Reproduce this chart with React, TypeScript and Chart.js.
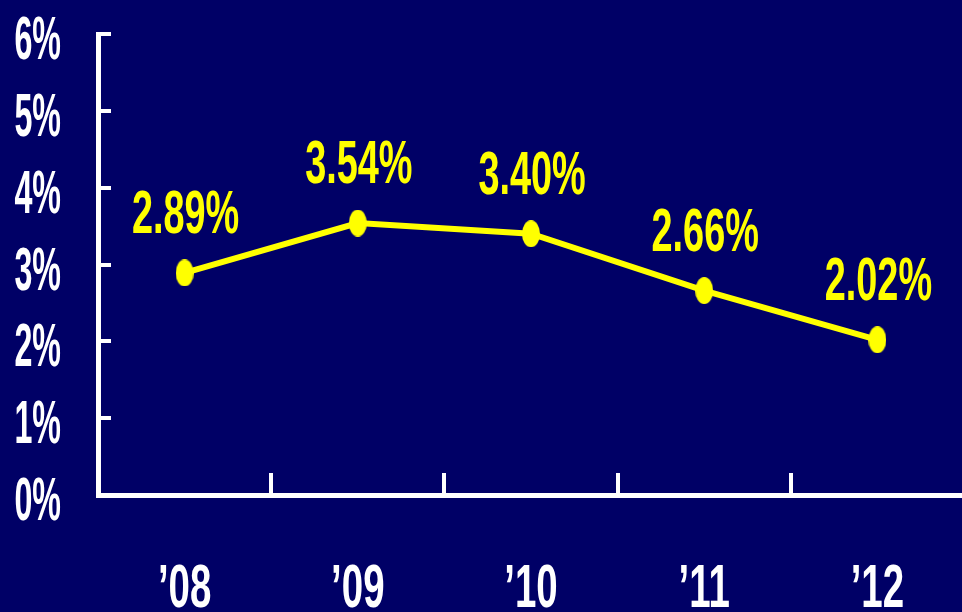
import React, { useEffect, useRef } from "react";
import { Chart, registerables } from "chart.js";

Chart.register(...registerables);

const categories = ["\u201908", "\u201909", "\u201910", "\u201911", "\u201912"];
const rates = [2.89, 3.54, 3.4, 2.66, 2.02];
const rateLabels = ["2.89%", "3.54%", "3.40%", "2.66%", "2.02%"];
const yTickValues = [0, 1, 2, 3, 4, 5, 6];
const yTickLabels = ["0%", "1%", "2%", "3%", "4%", "5%", "6%"];

const BG = "#000066";
const YELLOW = "#ffff00";
const WHITE = "#ffffff";
const FONT = "bold 62px 'Liberation Sans', Arial, sans-serif";
const SX = 0.6;

function makeEllipse(): HTMLCanvasElement {
  const c = document.createElement("canvas");
  c.width = 18;
  c.height = 27;
  const g = c.getContext("2d")!;
  g.fillStyle = YELLOW;
  g.beginPath();
  g.ellipse(9, 13.5, 9, 13.5, 0, 0, Math.PI * 2);
  g.fill();
  return c;
}

function drawScaled(ctx: CanvasRenderingContext2D, text: string, x: number, y: number, align: CanvasTextAlign, color: string, sx: number = SX) {
  ctx.save();
  ctx.translate(x, y);
  ctx.scale(sx, 1);
  ctx.font = FONT;
  ctx.fillStyle = color;
  ctx.textAlign = align;
  ctx.textBaseline = "alphabetic";
  ctx.fillText(text, 0, 0);
  ctx.restore();
}

const textPlugin = {
  id: "textPlugin",
  beforeDraw(chart: any) {
    const ctx = chart.ctx;
    ctx.save();
    ctx.fillStyle = BG;
    ctx.fillRect(0, 0, chart.width, chart.height);
    ctx.restore();
  },
  afterDraw(chart: any) {
    const ctx = chart.ctx as CanvasRenderingContext2D;
    const xs = chart.scales.x;
    const ys = chart.scales.y;
    yTickValues.forEach((v, i) => {
      const y = ys.getPixelForValue(v);
      drawScaled(ctx, yTickLabels[i], 61, y + 25, "right", WHITE, 0.52);
    });
    categories.forEach((c, i) => {
      const x = xs.getPixelForValue(i);
      drawScaled(ctx, c, x, 607, "center", WHITE, 0.62);
    });
    const meta = chart.getDatasetMeta(0);
    meta.data.forEach((pt: any, i: number) => {
      drawScaled(ctx, rateLabels[i], pt.x + 1, pt.y - 40, "center", YELLOW, 0.61);
    });
  },
};

export default function App() {
  const ref = useRef<HTMLCanvasElement | null>(null);
  useEffect(() => {
    document.body.style.margin = "0";
    document.body.style.background = BG;
    const canvas = ref.current!;
    const chart = new Chart(canvas, {
      type: "line",
      data: {
        labels: categories,
        datasets: [
          {
            data: rates,
            borderColor: YELLOW,
            backgroundColor: YELLOW,
            borderWidth: 6,
            tension: 0,
            pointStyle: makeEllipse() as any,
            pointRadius: 10,
          },
        ],
      },
      options: {
        animation: false,
        responsive: false,
        devicePixelRatio: 1,
        layout: { autoPadding: false, padding: { top: 34, left: 0, right: 0, bottom: 0 } },
        plugins: { legend: { display: false }, tooltip: { enabled: false } },
        scales: {
          x: {
            type: "category",
            offset: true,
            ticks: { display: false },
            grid: {
              offset: true,
              drawOnChartArea: false,
              drawTicks: true,
              tickLength: -22,
              color: WHITE,
              lineWidth: 4,
            },
            border: { display: true, color: WHITE, width: 5 },
            afterFit: (s: any) => {
              s.height = 117;
            },
          },
          y: {
            min: 0,
            max: 6,
            ticks: { display: false, stepSize: 1 },
            grid: {
              drawOnChartArea: false,
              drawTicks: true,
              tickLength: -13,
              color: WHITE,
              lineWidth: 4,
            },
            border: { display: true, color: WHITE, width: 5 },
            afterFit: (s: any) => {
              s.width = 98;
            },
          },
        },
      } as any,
      plugins: [textPlugin],
    });
    return () => chart.destroy();
  }, []);
  return (
    <div style={{ position: "fixed", left: 0, top: 0, width: 962, height: 612, overflow: "hidden", background: BG }}>
      <canvas ref={ref} width={964} height={612} style={{ display: "block", width: 964, height: 612 }} />
    </div>
  );
}
